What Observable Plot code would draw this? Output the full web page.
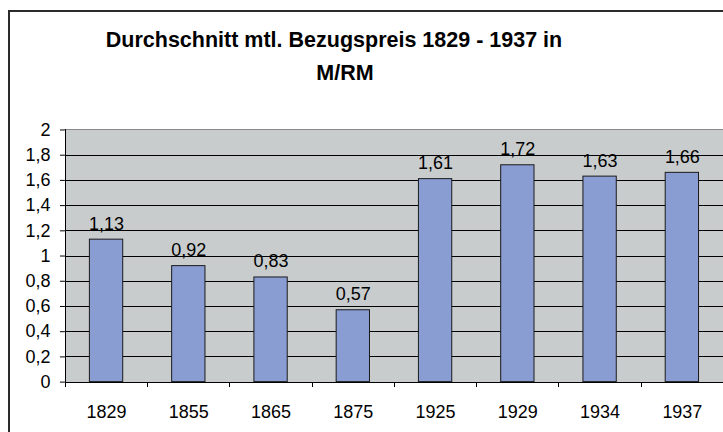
<!DOCTYPE html>
<html><head><meta charset="utf-8">
<script src="https://cdn.jsdelivr.net/npm/d3@7"></script>
<script src="https://cdn.jsdelivr.net/npm/@observablehq/plot@0.6"></script>
<style>
html,body{margin:0;padding:0;overflow:hidden;background:#fff;width:723px;height:432px;}
#frame{position:absolute;left:8px;top:10px;width:800px;height:500px;border:2px solid #2b2b2b;box-sizing:border-box;}
.t{position:absolute;font:bold 21.5px "Liberation Sans",Arial,sans-serif;line-height:21.5px;white-space:nowrap;transform:translateX(-50%);color:#000}
#chart{position:absolute;left:0;top:110px;}
</style></head><body>
<div id="frame"></div>
<div class="t" style="left:334px;top:30px">Durchschnitt mtl. Bezugspreis 1829 - 1937 in</div>
<div class="t" style="left:345px;top:63px">M/RM</div>
<div id="chart"></div>
<script>
const years = ["1829","1855","1865","1875","1925","1929","1934","1937"];
const prices = [1.13,0.92,0.83,0.57,1.61,1.72,1.63,1.66];
const yTicks = [0,0.2,0.4,0.6,0.8,1,1.2,1.4,1.6,1.8,2];
const gridTicks = [0.2,0.4,0.6,0.8,1,1.2,1.4,1.6,1.8];

const BAR = "#8A9DD3", BG = "#C8CCCC";
const fmt = d => String(d).replace(".", ",");
const W = 724, H = 322, ML = 65, MR = 0, MT = 19.5, MB = 50;
const step = (W - ML - MR) / years.length;
const data = years.map((year, i) => ({year, price: prices[i]}));

const chart = Plot.plot({
  width: W, height: H, marginLeft: ML, marginRight: MR, marginTop: MT, marginBottom: MB,
  style: {fontFamily: "'Liberation Sans', Arial, sans-serif", fontSize: "18px", color: "#000", background: "transparent", overflow: "visible"},
  x: {domain: years, paddingInner: 0.595, paddingOuter: 0.2975, round: false, label: null},
  y: {domain: [0, 2], label: null},
  marks: [
    Plot.frame({fill: BG, stroke: null}),
    Plot.ruleY(gridTicks, {stroke: "#000", strokeWidth: 1, shapeRendering: "crispEdges"}),
    Plot.ruleY([2], {stroke: "#8a8a8a", shapeRendering: "crispEdges"}),
    Plot.barY(data, {x: "year", y: "price", fill: BAR, stroke: "#1a1a1a", strokeWidth: 1}),
    Plot.text(data, {x: "year", y: "price", text: d => fmt(d.price), dy: -10, lineAnchor: "bottom", fill: "#000", fontSize: 18}),
    Plot.ruleY([0], {stroke: "#000", shapeRendering: "crispEdges"}),
    Plot.ruleX([years[0]], {x: d => d, y1: 2, y2: 0, dx: -step / 2, insetBottom: -5, stroke: "#000", shapeRendering: "crispEdges"}),
    Plot.ruleX(years, {x: d => d, y1: 0, y2: 0, dx: step / 2, insetBottom: -5, stroke: "#000", shapeRendering: "crispEdges"}),
    Plot.axisY({ticks: yTicks, tickSize: 5, tickPadding: 10, tickFormat: fmt, fontSize: 18}),
    Plot.axisX({tickSize: 0, tickPadding: 23, fontSize: 18})
  ]
});
document.getElementById("chart").appendChild(chart);
</script>
</body></html>
